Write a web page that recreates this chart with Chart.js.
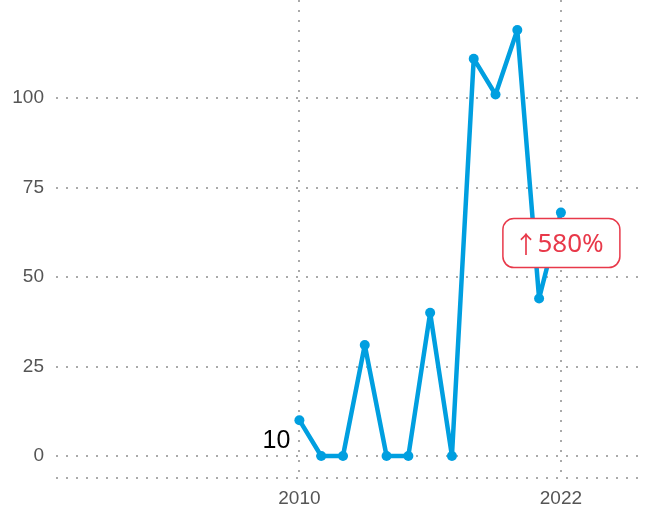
<!DOCTYPE html>
<html>
<head>
<meta charset="utf-8">
<script src="https://cdn.jsdelivr.net/npm/chart.js@4.4.0/dist/chart.umd.min.js"></script>
<style>
  html, body { margin: 0; padding: 0; background: #fff; overflow: hidden; }
  #wrap { width: 645px; height: 510px; }
</style>
</head>
<body>
<div id="wrap"><canvas id="chart"></canvas></div>
<script>
// Data
const years = [2010, 2011, 2012, 2013, 2014, 2015, 2016, 2017, 2018, 2019, 2020, 2021, 2022];
const values = [10, 0, 0, 31, 0, 0, 40, 0, 111, 101, 119, 44, 68];
const xTicks = [2010, 2022];
const yTicks = [0, 25, 50, 75, 100];

// axis ranges
const xMin = 1998.83, xMax = 2025.86;
const yMin = -6.15, yMax = 127.4;

const gridColor = '#aaaaaa';
const lineColor = '#009fe0';
const red = '#e8394a';
const tickFont = { size: 19, family: '"Liberation Sans", Arial, sans-serif' };

// first value label + change badge under the last point
const labelsPlugin = {
    id: 'labels',
    afterDatasetsDraw(chart) {
        const ctx = chart.ctx;
        const x = chart.scales.x, y = chart.scales.y;
        const first = values[0], last = values[values.length - 1];

        // first value, left of the first point
        ctx.save();
        ctx.font = '25px "Liberation Sans", Arial, sans-serif';
        ctx.fillStyle = '#000';
        ctx.textAlign = 'right';
        ctx.textBaseline = 'middle';
        ctx.fillText(String(first), x.getPixelForValue(years[0]) - 9, y.getPixelForValue(first) + 21);

        // change badge
        const pct = Math.round((last - first) / first * 100);
        const cx = x.getPixelForValue(years[years.length - 1]) + 0.5;
        const cy = y.getPixelForValue(last) + 30.5;
        const w = 117, h = 49;
        ctx.beginPath();
        ctx.roundRect(cx - w / 2, cy - h / 2, w, h, 11);
        ctx.fillStyle = '#fff';
        ctx.fill();
        ctx.lineWidth = 1.5;
        ctx.strokeStyle = red;
        ctx.stroke();
        ctx.fillStyle = red;
        ctx.textAlign = 'center';
        ctx.font = '24px "Noto Sans CJK SC", "DejaVu Sans", sans-serif';
        ctx.fillText('\u2191', cx - 35.5, cy + 1);
        ctx.textAlign = 'left';
        ctx.font = '26px "Noto Sans", "Open Sans", sans-serif';
        ctx.fillText(pct + '%', cx - 24, cy + 1);
        ctx.restore();
    }
};

new Chart(document.getElementById('chart'), {
    type: 'line',
    data: {
        datasets: [{
            data: years.map((yr, i) => ({ x: yr, y: values[i] })),
            borderColor: lineColor,
            backgroundColor: lineColor,
            borderWidth: 4.5,
            borderJoinStyle: 'round',
            borderCapStyle: 'round',
            pointRadius: 5,
            pointHoverRadius: 5,
            pointBorderWidth: 0,
            tension: 0
        }]
    },
    options: {
        responsive: true,
        maintainAspectRatio: false,
        animation: false,
        layout: { padding: 0, autoPadding: false },
        plugins: { legend: { display: false }, tooltip: { enabled: false } },
        scales: {
            x: {
                type: 'linear',
                min: xMin,
                max: xMax,
                afterBuildTicks: s => { s.ticks = xTicks.map(v => ({ value: v })); },
                afterFit: s => { s.height = 32; s.paddingLeft = 0; s.paddingRight = 0; },
                grid: { color: gridColor, lineWidth: 2, drawTicks: false },
                border: { display: false, dash: [2, 8] },
                ticks: {
                    padding: 9,
                    color: '#555',
                    font: tickFont,
                    maxRotation: 0,
                    callback: v => String(v)
                }
            },
            y: {
                min: yMin,
                max: yMax,
                afterBuildTicks: s => { s.ticks = [yMin].concat(yTicks).map(v => ({ value: v })); },
                afterFit: s => { s.width = 56; s.paddingTop = 0; s.paddingBottom = 0; },
                grid: { color: gridColor, lineWidth: 2, drawTicks: false },
                border: { display: false, dash: [2, 8] },
                ticks: {
                    padding: 12,
                    color: '#555',
                    font: tickFont,
                    callback: v => yTicks.includes(v) ? String(v) : ''
                }
            }
        }
    },
    plugins: [labelsPlugin]
});
</script>
</body>
</html>
